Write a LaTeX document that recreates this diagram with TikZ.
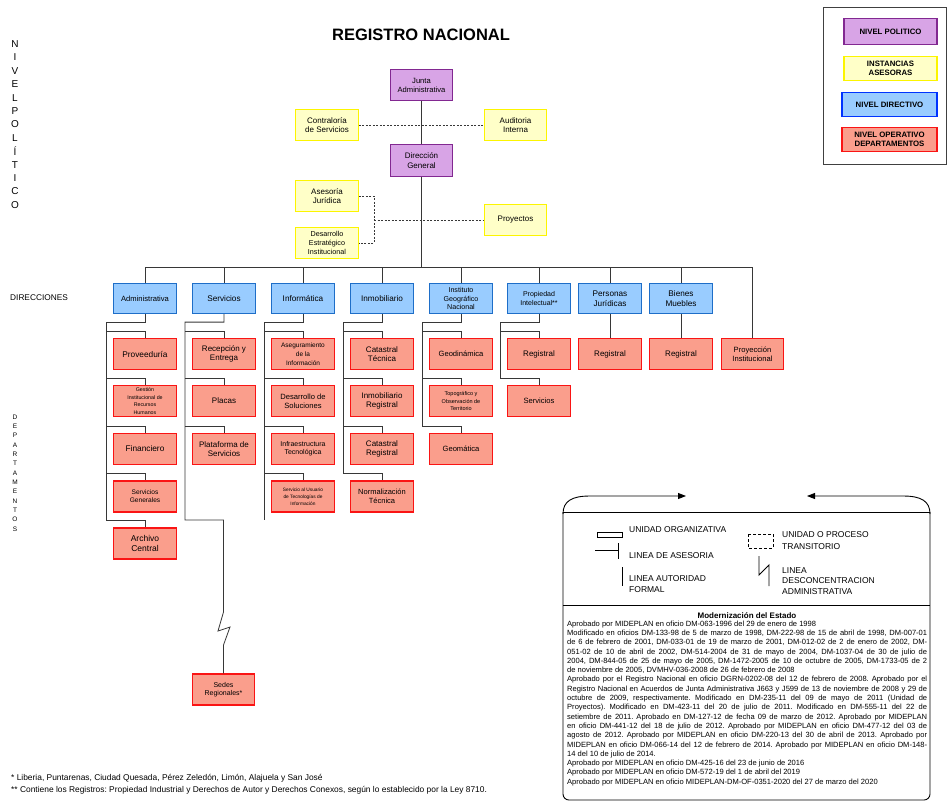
\documentclass[tikz,border=0pt]{standalone}
\usepackage{fontspec}
\setmainfont{Liberation Sans}
\frenchspacing
\usetikzlibrary{arrows.meta}
\definecolor{polF}{RGB}{216,164,230}
\definecolor{polD}{RGB}{130,40,145}
\definecolor{yelF}{RGB}{255,255,200}
\definecolor{yelD}{RGB}{252,245,0}
\definecolor{bluF}{RGB}{153,204,255}
\definecolor{bluD}{RGB}{30,110,200}
\definecolor{redF}{RGB}{250,158,140}
\definecolor{redD}{RGB}{250,20,20}
\definecolor{lineC}{RGB}{55,55,55}
\tikzset{
  box/.style={draw, line width=1.2pt, minimum width=62.5pt, minimum height=31pt, inner sep=1pt, align=center, font=\fontsize{8}{9.5}\selectfont},
  pol/.style={box, fill=polF, draw=polD},
  ase/.style={box, fill=yelF, draw=yelD},
  dirbox/.style={box, fill=bluF, draw=bluD, minimum height=30pt, font=\fontsize{8.2}{9.5}\selectfont},
  dep/.style={box, fill=redF, draw=redD},
  con/.style={draw=lineC, line width=0.8pt},
  das/.style={draw=lineC, line width=0.8pt, dash pattern=on 2pt off 1.5pt},
  legtxt/.style={anchor=west, align=left, inner sep=0pt, font=\fontsize{8.5}{11}\selectfont},
  fs/.style={font=\fontsize{#1}{\dimexpr #1pt*118/100\relax}\selectfont}
}
\begin{document}
\begin{tikzpicture}[x=1pt,y=-1pt]
\useasboundingbox (0,0) rectangle (947,809);
\fill[white] (0,0) rectangle (947,809);

% title
\node[font=\bfseries\fontsize{16.5}{19}\selectfont] (title) at (421,35) {REGISTRO NACIONAL};

% side labels
\foreach \l [count=\i from 0] in {N,I,V,E,L,P,O,L,Í,T,I,C,O}
  \node[font=\fontsize{10}{11}\selectfont, inner sep=0pt] (np\i) at (15,44+13.4*\i) {\l};
\node[anchor=west, inner sep=0pt, font=\fontsize{8.3}{9}\selectfont] (direcc) at (10,298) {DIRECCIONES};
\foreach \l [count=\i from 0] in {D,E,P,A,R,T,A,M,E,N,T,O,S}
  \node[font=\fontsize{6.5}{7}\selectfont, inner sep=0pt] (dp\i) at (15,417+9.33*\i) {\l};

% top level
\node[pol, font=\fontsize{7.6}{9}\selectfont] (junta) at (421.5,85) {Junta\\Administrativa};
\node[ase] (contra) at (327,125) {Contraloría\\de Servicios};
\node[ase] (audit) at (515.5,125) {Auditoria\\Interna};
\node[pol, minimum height=32pt] (dirgen) at (421.5,160.5) {Dirección\\General};
\node[ase] (aseso) at (327,196) {Asesoría\\Jurídica};
\node[ase, font=\fontsize{7.2}{8.6}\selectfont] (desar) at (327,243) {Desarrollo\\Estratégico\\Institucional};
\node[ase] (proy) at (515.5,220) {Proyectos};

% direcciones
\node[dirbox, fs=7.6] (adm) at (145,298.5) {Administrativa};
\node[dirbox] (serv) at (224,298.5) {Servicios};
\node[dirbox] (inf) at (303,298.5) {Informática};
\node[dirbox] (inm) at (382,298.5) {Inmobiliario};
\node[dirbox, font=\fontsize{7.1}{8.8}\selectfont] (igm) at (461,298.5) {Instituto\\Geográfico\\Nacional};
\node[dirbox, fs=7] (prop) at (539,298.5) {Propiedad\\Intelectual**};
\node[dirbox] (pers) at (610,298.5) {Personas\\Jurídicas};
\node[dirbox] (bien) at (681,298.5) {Bienes\\Muebles};

% departamentos
\node[dep, fs=8.3] (a1) at (145,354) {Proveeduría};
\node[dep, font=\fontsize{5.3}{7.6}\selectfont] (a2) at (145,401) {Gestión\\Institucional de\\Recursos\\Humanos};
\node[dep, fs=8.3] (a3) at (145,449) {Financiero};
\node[dep, fs=6.6] (a4) at (145,496.5) {Servicios\\Generales};
\node[dep, fs=8.5] (a5) at (145,543.5) {Archivo\\Central};

\node[dep] (s1) at (224,354) {Recepción y\\Entrega};
\node[dep] (s2) at (224,401) {Placas};
\node[dep] (s3) at (224,449) {Plataforma de\\Servicios};

\node[dep, font=\fontsize{6.5}{9.2}\selectfont] (i1) at (303,354) {Aseguramiento\\de la\\Información};
\node[dep, fs=7.6] (i2) at (303,401) {Desarrollo de\\Soluciones};
\node[dep, fs=7] (i3) at (303,449) {Infraestructura\\Tecnológica};
\node[dep, font=\fontsize{4.8}{6.8}\selectfont] (i4) at (303,496.5) {Servicio al Usuario\\de Tecnologías de\\Información};

\node[dep] (m1) at (382,354) {Catastral\\Técnica};
\node[dep] (m2) at (382,401) {Inmobiliario\\Registral};
\node[dep] (m3) at (382,449) {Catastral\\Registral};
\node[dep, fs=7.5] (m4) at (382,496.5) {Normalización\\Técnica};

\node[dep, fs=7.6] (g1) at (461,354) {Geodinámica};
\node[dep, font=\fontsize{5.5}{7.8}\selectfont] (g2) at (461,401) {Topográfico y\\Observación de\\Territorio};
\node[dep, fs=7.6] (g3) at (461,449) {Geomática};

\node[dep] (p1) at (539,354) {Registral};
\node[dep, fs=7.6] (p2) at (539,401) {Servicios};

\node[dep] (pr) at (610,354) {Registral};
\node[dep] (br) at (681,354) {Registral};
\node[dep, fs=7.6] (proyinst) at (752.5,354) {Proyección\\Institucional};

\node[dep, fs=7] (sedes) at (223.5,689.5) {Sedes\\Regionales*};

% connectors top
\draw[das] (contra.east) -- (audit.west);
\draw[das] (aseso.east) -- (374,196) -- (374,243) -- (desar.east);
\draw[das] (374,220) -- (proy.west);
\draw[con] (junta) -- (dirgen);
\coordinate (busL) at (145,267);
\coordinate (busR) at (752.5,267);
\draw[con] (dirgen.south) -- (dirgen.south |- busL);
\draw[con] (busL) -- (busR) -- (proyinst.north);
\foreach \n in {adm,serv,inf,inm,igm,prop,pers,bien}
  \draw[con] (\n.north |- busL) -- (\n.north);
\draw[con] (pers) -- (pr);
\draw[con] (bien) -- (br);

% department spines
\draw[con] (adm.south) -- ++(0,8) -| (106,520);
\foreach \n/\y in {a1/331,a2/378,a3/426,a4/473,a5/520}
  \draw[con] (106,\y) -| (\n.north);
\draw[con] (serv.south) -- ++(0,8) -| (185,520) -- (223.5,520) -- (223.5,612) -- (218,631) -- (230,627) -- (223.5,645) -- (sedes.north);
\foreach \n/\y in {s1/331,s2/378,s3/426}
  \draw[con] (185,\y) -| (\n.north);
\draw[con] (inf.south) -- ++(0,8) -| (264,520);
\foreach \n/\y in {i1/331,i2/378,i3/426,i4/473}
  \draw[con] (264,\y) -| (\n.north);
\draw[con] (inm.south) -- ++(0,8) -| (343,473);
\foreach \n/\y in {m1/331,m2/378,m3/426,m4/473}
  \draw[con] (343,\y) -| (\n.north);
\draw[con] (igm.south) -- ++(0,8) -| (422,426);
\foreach \n/\y in {g1/331,g2/378,g3/426}
  \draw[con] (422,\y) -| (\n.north);
\draw[con] (prop.south) -- ++(0,8) -| (500,378);
\foreach \n/\y in {p1/331,p2/378}
  \draw[con] (500,\y) -| (\n.north);

% legend top right
\draw[line width=0.8pt, draw=black!75] (823,7) rectangle (946,164);
\node[pol, minimum width=93pt, minimum height=26pt, font=\bfseries\fontsize{7.8}{9}\selectfont] (lpol) at (890.5,31.5) {NIVEL POLITICO};
\node[ase, minimum width=93pt, minimum height=24pt, font=\bfseries\fontsize{7.8}{9}\selectfont] (lase) at (890.5,68.5) {INSTANCIAS\\ASESORAS};
\node[dirbox, draw=blue!80!cyan, minimum width=95pt, minimum height=24pt, font=\bfseries\fontsize{7.8}{9}\selectfont] (ldir) at (889.5,104.5) {NIVEL DIRECTIVO};
\node[dep, minimum width=95pt, minimum height=24pt, font=\bfseries\fontsize{7.8}{9}\selectfont] (lop) at (889.5,139.5) {NIVEL OPERATIVO\\DEPARTAMENTOS};

% legend bottom box
\draw[line width=0.9pt] (563,512) -- (930,512);
\draw[line width=0.9pt, rounded corners=6pt] (563,512) -- (563,800) -- (930,800) -- (930,512);
\draw[line width=0.9pt] (563,605) -- (930,605);
\draw[line width=0.9pt, -{Triangle[length=8pt,width=6pt]}] (563,514) .. controls (563,501) and (572,496) .. (590,496) -- (686,496);
\draw[line width=0.9pt, -{Triangle[length=8pt,width=6pt]}] (930,514) .. controls (930,501) and (921,496) .. (903,496) -- (807,496);

\draw[line width=0.9pt] (597,532) rectangle (622,537);
\node[legtxt] (l1) at (629,530) {UNIDAD ORGANIZATIVA};
\draw[line width=0.9pt] (595,550) -- (618,550);
\draw[line width=0.9pt] (618,543) -- (618,559);
\node[legtxt] (l2) at (629,556) {LINEA DE ASESORIA};
\draw[line width=0.9pt] (622,567) -- (622,586);
\node[legtxt, font=\fontsize{8.5}{11.5}\selectfont] (l3) at (629,584) {LINEA AUTORIDAD\\FORMAL};
\draw[line width=0.9pt, dash pattern=on 3pt off 2pt] (748,534) rectangle (773,548);
\node[legtxt, font=\fontsize{8.5}{12}\selectfont] (l4) at (782,541) {UNIDAD O PROCESO\\TRANSITORIO};
\draw[line width=0.9pt] (759,556) -- (759,575) -- (769,565) -- (769,586);
\node[legtxt, font=\fontsize{8.5}{10.5}\selectfont] (l5) at (782,581) {LINEA\\DESCONCENTRACION\\ADMINISTRATIVA};

% modernizacion
\node[font=\bfseries\fontsize{8}{9}\selectfont] (modt) at (747,616) {Modernización del Estado};
\node[anchor=north west, text width=360pt, align=justify, inner sep=0pt, font=\fontsize{7.55}{9.3}\selectfont] (modtxt) at (567,620.5) {\setlength{\parindent}{0pt}\setlength{\parskip}{0pt}\tolerance=9999\emergencystretch=0pt
Aprobado por MIDEPLAN en oficio DM-063-1996 del 29 de enero de 1998\par
Modificado en oficios DM-133-98 de 5 de marzo de 1998, DM-222-98 de 15 de abril de 1998, DM-007-01\linebreak
de 6 de febrero de 2001, DM-033-01 de 19 de marzo de 2001, DM-012-02 de 2 de enero de 2002, DM-\linebreak
051-02 de 10 de abril de 2002, DM-514-2004 de 31 de mayo de 2004, DM-1037-04 de 30 de julio de\linebreak
2004, DM-844-05 de 25 de mayo de 2005, DM-1472-2005 de 10 de octubre de 2005, DM-1733-05 de 2\linebreak
de noviembre de 2005, DVMHV-036-2008 de 26 de febrero de 2008\par
Aprobado por el Registro Nacional en oficio DGRN-0202-08 del 12 de febrero de 2008. Aprobado por el\linebreak
Registro Nacional en Acuerdos de Junta Administrativa J663 y J599 de 13 de noviembre de 2008 y 29 de\linebreak
octubre de 2009, respectivamente. Modificado en DM-235-11 del 09 de mayo de 2011 (Unidad de\linebreak
Proyectos). Modificado en DM-423-11 del 20 de julio de 2011. Modificado en DM-555-11 del 22 de\linebreak
setiembre de 2011. Aprobado en DM-127-12 de fecha 09 de marzo de 2012. Aprobado por MIDEPLAN\linebreak
en oficio DM-441-12 del 18 de julio de 2012. Aprobado por MIDEPLAN en oficio DM-477-12 del 03 de\linebreak
agosto de 2012. Aprobado por MIDEPLAN en oficio DM-220-13 del 30 de abril de 2013. Aprobado por\linebreak
MIDEPLAN en oficio DM-066-14 del 12 de febrero de 2014. Aprobado por MIDEPLAN en oficio DM-148-\linebreak
14 del 10 de julio de 2014.\par
Aprobado por MIDEPLAN en oficio DM-425-16 del 23 de junio de 2016\par
Aprobado por MIDEPLAN en oficio DM-572-19 del 1 de abril del 2019\par
Aprobado por MIDEPLAN en oficio MIDEPLAN-DM-OF-0351-2020 del 27 de marzo del 2020\par};

% footnotes
\node[anchor=base west, inner sep=0pt, font=\fontsize{8.4}{9}\selectfont] (fn1) at (11,780) {* Liberia, Puntarenas, Ciudad Quesada, Pérez Zeledón, Limón, Alajuela y San José};
\node[anchor=base west, inner sep=0pt, font=\fontsize{8.4}{9}\selectfont] (fn2) at (11,792) {** Contiene los Registros: Propiedad Industrial y Derechos de Autor y Derechos Conexos, según lo establecido por la Ley 8710.};
\end{tikzpicture}
\end{document}
